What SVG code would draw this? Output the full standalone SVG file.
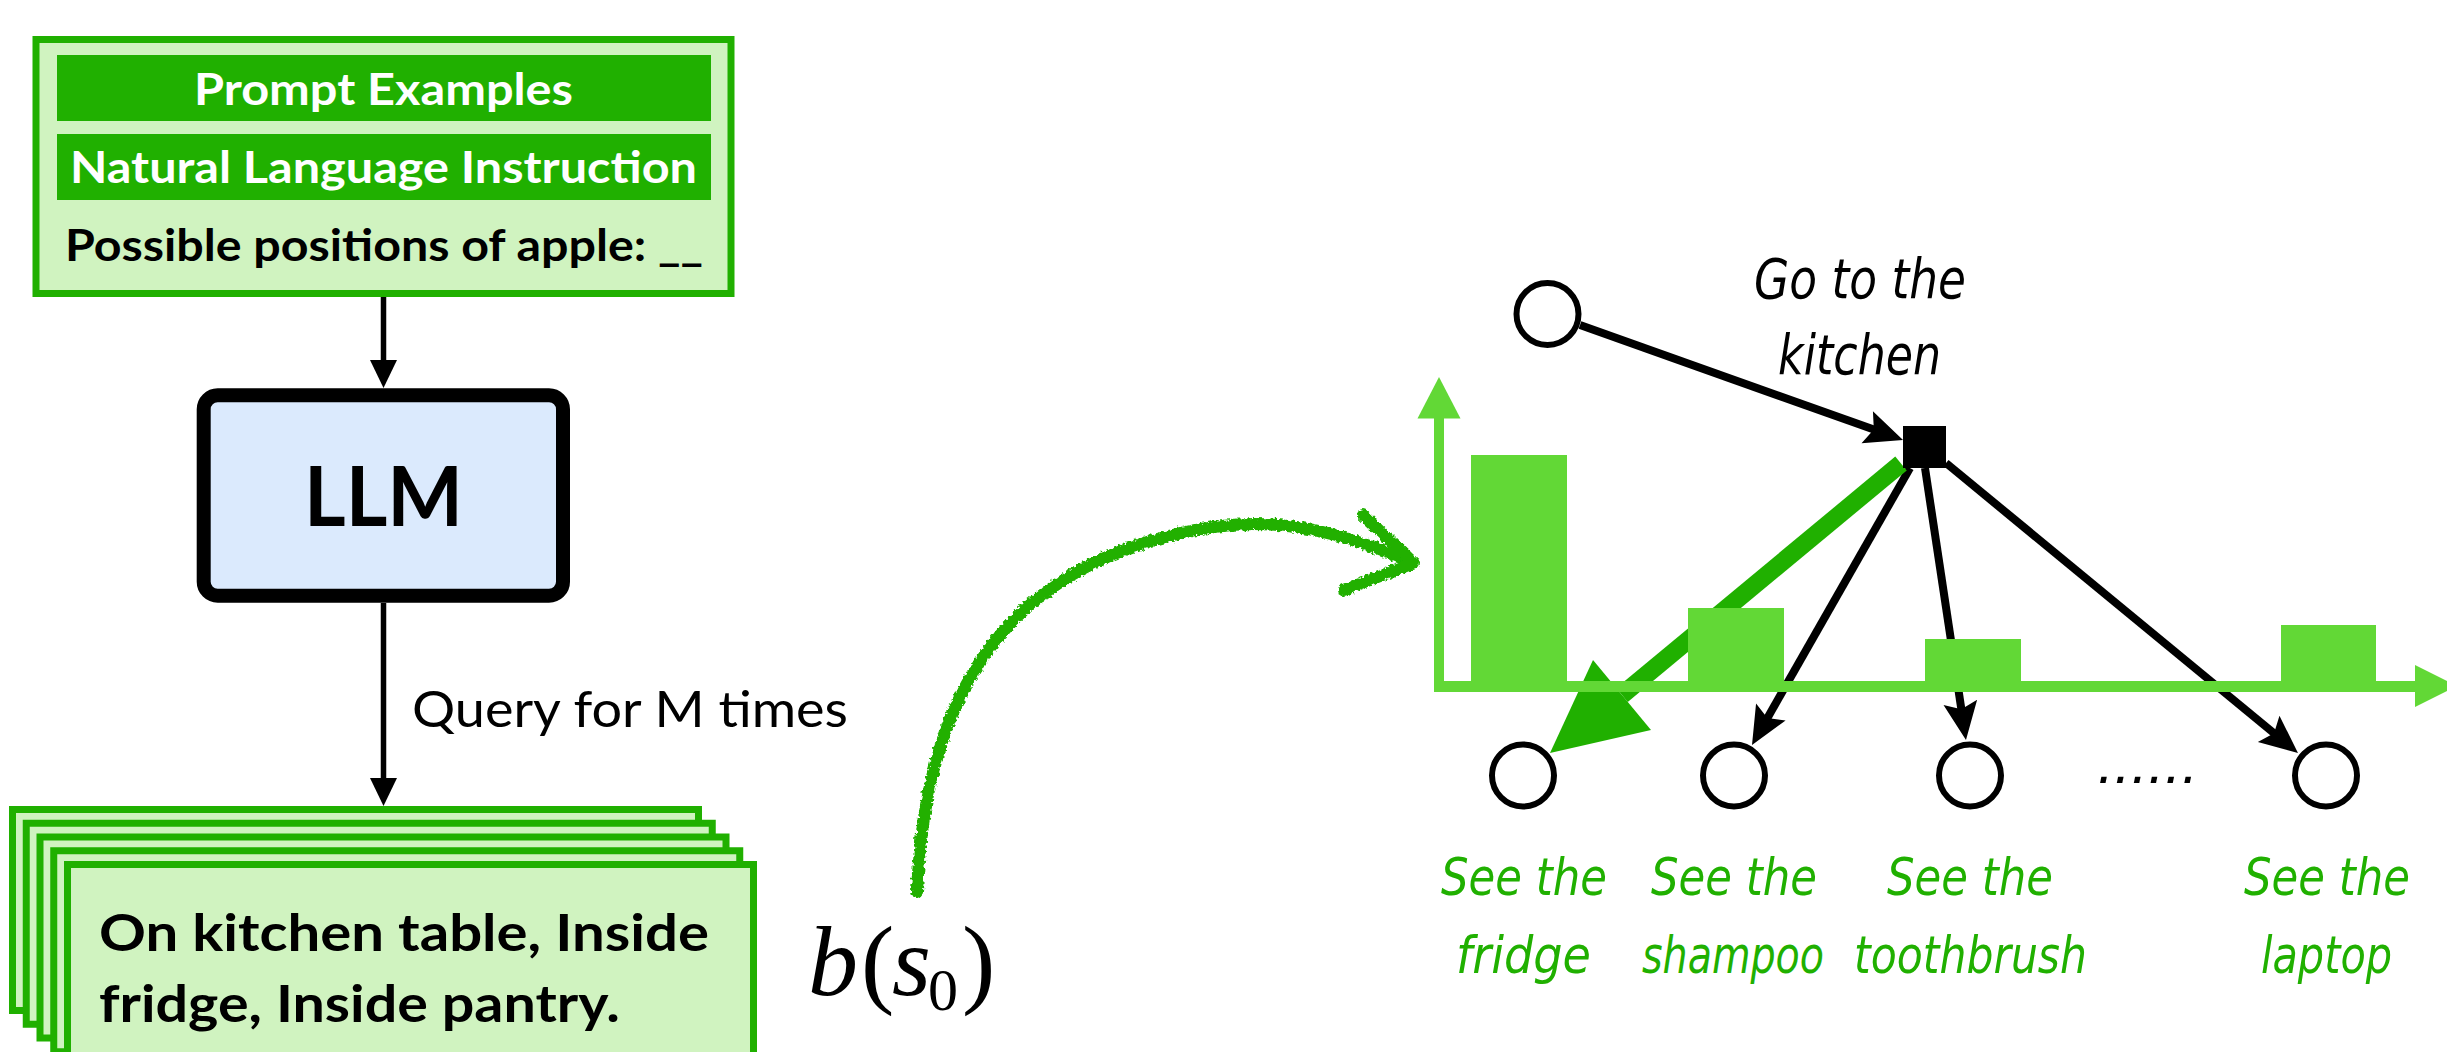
<svg xmlns="http://www.w3.org/2000/svg" width="2447" height="1052" viewBox="0 0 2447 1052">
<defs>
<style>
.sans{font-family:Lato,"Open Sans","Liberation Sans",sans-serif;}
.bold{font-weight:700;}
.hand{font-family:"DejaVu Sans","Liberation Sans",sans-serif;font-stretch:condensed;font-style:oblique;}
.lbl{fill:#20b000;font-size:52px;text-anchor:middle;}
.conn{stroke:#000;stroke-width:8;fill:none;}
.vconn{stroke:#000;stroke-width:5.5;fill:none;}
.stack{fill:#d0f3c0;stroke:#20b000;stroke-width:7;}
.node{fill:#fff;stroke:#000;stroke-width:6;}
.bar{fill:#62d836;}
.dg{fill:#20b000;}
</style>
<marker id="ah" viewBox="-44 -22 44 44" markerWidth="44" markerHeight="44" markerUnits="userSpaceOnUse" refX="-22" refY="0" orient="auto"><path d="M0,0 L-38,-17 L-31,0 L-38,17 Z" fill="#000"/></marker>
<marker id="tri" viewBox="-40 -20 40 40" markerWidth="40" markerHeight="40" markerUnits="userSpaceOnUse" refX="-20" refY="0" orient="auto"><path d="M0,0 L-28,-13.5 L-28,13.5 Z" fill="#000"/></marker>
<filter id="rough" x="-10%" y="-10%" width="120%" height="120%"><feTurbulence type="fractalNoise" baseFrequency="0.3" numOctaves="2" seed="3"/><feDisplacementMap in="SourceGraphic" scale="6" xChannelSelector="R" yChannelSelector="G"/></filter>
</defs>
<rect x="0" y="0" width="2447" height="1052" fill="#fff"/>

<g id="connectors">
<line class="vconn" x1="383.5" y1="297" x2="383.5" y2="368" marker-end="url(#tri)"/>
<line class="vconn" x1="383.5" y1="603" x2="383.5" y2="786" marker-end="url(#tri)"/>
<line class="conn" x1="1580" y1="325" x2="1882.3" y2="432.6" marker-end="url(#ah)"/>
<line class="conn" x1="1910" y1="468" x2="1762.9" y2="725.9" marker-end="url(#ah)"/>
<line class="conn" x1="1925" y1="468" x2="1962.7" y2="718.2" marker-end="url(#ah)"/>
<line class="conn" x1="1946" y1="463" x2="2281" y2="739" marker-end="url(#ah)"/>
<line x1="1901" y1="463.5" x2="1622" y2="695" stroke="#20b000" stroke-width="18"/>
<polygon class="dg" points="1550,753 1593,660 1651,730"/>
<g id="sketch-arrow" filter="url(#rough)" fill="none" stroke="#20b000" stroke-width="12" stroke-linecap="round" stroke-linejoin="round">
<path d="M917,892 C925,700 1000,560 1214,527 C1290,515 1360,540 1410,562"/>
<path d="M1363,515 L1414,563 L1344,590"/>
</g>
</g>

<g id="prompt">
<rect x="36" y="39.5" width="695" height="254" fill="#d0f3c0" stroke="#20b000" stroke-width="7"/>
<rect x="57" y="55" width="654" height="66" class="dg"/>
<rect x="57" y="134" width="654" height="66" class="dg"/>
<text x="383.5" y="105" text-anchor="middle" class="sans bold" font-size="44" fill="#fff" textLength="379" lengthAdjust="spacingAndGlyphs">Prompt Examples</text>
<text x="383.5" y="183" text-anchor="middle" class="sans bold" font-size="44" fill="#fff" textLength="627" lengthAdjust="spacingAndGlyphs">Natural Language Instruction</text>
<text x="65" y="261" class="sans bold" font-size="44" fill="#000" textLength="638" lengthAdjust="spacingAndGlyphs">Possible positions of apple: __</text>
</g>

<g id="llm">
<rect x="203.7" y="395.3" width="359.3" height="200.4" rx="14" fill="#dbeafd" stroke="#000" stroke-width="14"/>
<text x="383.5" y="526" text-anchor="middle" class="sans bold" font-size="83" fill="#000" textLength="159" lengthAdjust="spacingAndGlyphs">LLM</text>
</g>

<g id="query-label">
<text x="412" y="727" class="sans" font-size="51" fill="#000" textLength="436" lengthAdjust="spacingAndGlyphs">Query for M times</text>
</g>

<g id="answers">
<rect class="stack" x="12.5" y="809.5" width="686" height="201"/>
<rect class="stack" x="26.25" y="823.25" width="686" height="201"/>
<rect class="stack" x="40" y="837" width="686" height="201"/>
<rect class="stack" x="53.75" y="850.75" width="686" height="201"/>
<rect class="stack" x="67.5" y="864.5" width="686" height="201"/>
<text x="99" y="950.7" class="sans bold" font-size="52" fill="#000" textLength="610" lengthAdjust="spacingAndGlyphs">On kitchen table, Inside</text>
<text x="99" y="1021.7" class="sans bold" font-size="52" fill="#000" textLength="521" lengthAdjust="spacingAndGlyphs">fridge, Inside pantry.</text>
</g>

<g id="belief" font-family="'Liberation Serif','DejaVu Serif',serif" fill="#000">
<text x="808" y="995" font-size="100" font-style="italic">b</text>
<text x="861" y="995" font-size="100">(</text>
<text x="892" y="995" font-size="100" font-style="italic">s</text>
<text x="928" y="1010" font-size="60">0</text>
<text x="962" y="995" font-size="100">)</text>
</g>

<g id="chart">
<rect class="bar" x="1471" y="455" width="96" height="226"/>
<rect class="bar" x="1688" y="608" width="96" height="73"/>
<rect class="bar" x="1925" y="639" width="96" height="42"/>
<rect class="bar" x="2281" y="625" width="95" height="56"/>
<rect class="bar" x="1434" y="416" width="10" height="276"/>
<polygon class="bar" points="1439,377 1417.5,418.5 1460.5,418.5"/>
<rect class="bar" x="1434" y="681" width="983" height="11"/>
<polygon class="bar" points="2415,665 2415,707 2457,686"/>
</g>

<g id="start-node">
<circle class="node" cx="1547.5" cy="314" r="31"/>
</g>
<g id="action-node">
<rect x="1903" y="426" width="43" height="42" fill="#000"/>
<text class="hand" x="1860" y="298" font-size="56" text-anchor="middle" fill="#000" textLength="212" lengthAdjust="spacingAndGlyphs">Go to the</text>
<text class="hand" x="1859.5" y="374" font-size="56" text-anchor="middle" fill="#000" textLength="163" lengthAdjust="spacingAndGlyphs">kitchen</text>
</g>
<g id="fridge-node">
<circle class="node" cx="1523" cy="775.5" r="31"/>
<text class="hand lbl" x="1524" y="895" textLength="166" lengthAdjust="spacingAndGlyphs">See the</text>
<text class="hand lbl" x="1523.5" y="973" textLength="135" lengthAdjust="spacingAndGlyphs">fridge</text>
</g>
<g id="shampoo-node">
<circle class="node" cx="1734" cy="775.5" r="31"/>
<text class="hand lbl" x="1734" y="895" textLength="166" lengthAdjust="spacingAndGlyphs">See the</text>
<text class="hand lbl" x="1733" y="973" textLength="182" lengthAdjust="spacingAndGlyphs">shampoo</text>
</g>
<g id="toothbrush-node">
<circle class="node" cx="1970" cy="775.5" r="31"/>
<text class="hand lbl" x="1970" y="895" textLength="166" lengthAdjust="spacingAndGlyphs">See the</text>
<text class="hand lbl" x="1970.5" y="973" textLength="233" lengthAdjust="spacingAndGlyphs">toothbrush</text>
</g>
<g id="ellipsis">
<text class="hand" x="2147.5" y="783" font-size="50" text-anchor="middle" fill="#000" textLength="101" lengthAdjust="spacingAndGlyphs">......</text>
</g>
<g id="laptop-node">
<circle class="node" cx="2326" cy="775.5" r="31"/>
<text class="hand lbl" x="2327" y="895" textLength="166" lengthAdjust="spacingAndGlyphs">See the</text>
<text class="hand lbl" x="2326.5" y="973" textLength="131" lengthAdjust="spacingAndGlyphs">laptop</text>
</g>
</svg>
